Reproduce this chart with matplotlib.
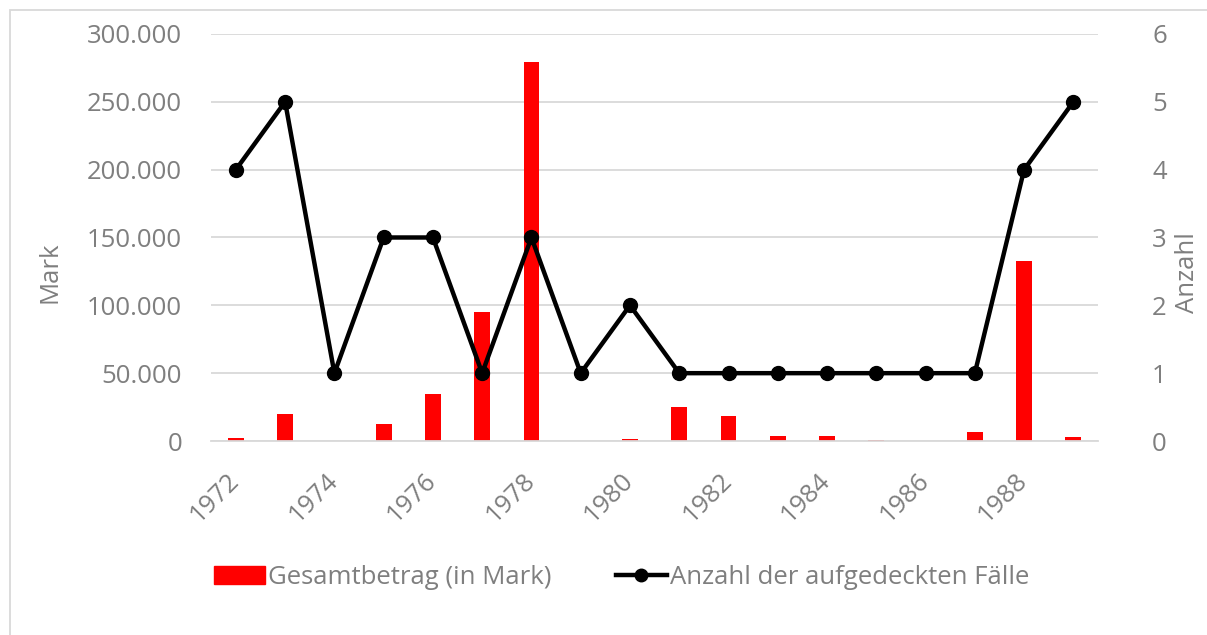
import numpy as np
import matplotlib.pyplot as plt
from matplotlib.lines import Line2D
from matplotlib.patches import Patch, Rectangle

# =============================================================================
# Data
# =============================================================================
years = list(range(1972, 1990))
betrag = [2000, 20000, 0, 12500, 35000, 95000, 279000, 300, 1500,
          25000, 18500, 3700, 4000, 800, 0, 6400, 133000, 2700]
faelle = [4, 5, 1, 3, 3, 1, 3, 1, 2, 1, 1, 1, 1, 1, 1, 1, 4, 5]

tick_years = [y for y in years if y % 2 == 0]
grey = '#7f7f7f'

plt.rcParams['font.family'] = ['Open Sans', 'DejaVu Sans']

# =============================================================================
# Plot
# =============================================================================
fig = plt.figure(figsize=(12.07, 6.35), dpi=100)
ax = fig.add_axes([0.175, 0.3055, 0.7347, 0.641])
ax2 = ax.twinx()

x = np.arange(len(years))
ax.bar(x, betrag, width=0.32, color='#ff0000', zorder=2)
ax2.plot(x, faelle, color='black', lw=3.2, marker='o', ms=10, zorder=3)

ax.set_xlim(-0.5, len(years) - 0.5)
ax.set_ylim(0, 300000)
ax2.set_ylim(0, 6)

yt = np.arange(0, 300001, 50000)
ax.set_yticks(yt)
ax.set_yticklabels([f'{v:,}'.replace(',', '.') if v else '0' for v in yt])
ax2.set_yticks(range(7))

ax.set_xticks([years.index(y) for y in tick_years])
ax.set_xticklabels(tick_years, rotation=45, ha='right', va='center',
                   rotation_mode='anchor')

ax.grid(axis='y', color='#d9d9d9', lw=1.3, zorder=0)
ax.set_axisbelow(True)
for a in (ax, ax2):
    for s in a.spines.values():
        s.set_visible(False)
    a.tick_params(length=0, colors=grey, labelsize=18.5)
ax.spines['bottom'].set_visible(True)
ax.spines['bottom'].set_color('#d9d9d9')
ax.spines['bottom'].set_linewidth(1.3)
ax.tick_params(axis='x', pad=26)
ax.tick_params(axis='y', pad=21)
ax2.tick_params(axis='y', pad=39)

ax.set_ylabel('Mark', color=grey, fontsize=18.5)
ax2.set_ylabel('Anzahl', color=grey, fontsize=18.5, rotation=90)
ax.yaxis.set_label_coords(-0.168, 0.415)
ax2.yaxis.set_label_coords(1.087, 0.415)

handles = [Patch(color='#ff0000', label='Gesamtbetrag (in Mark)'),
           Line2D([0], [0], color='black', lw=3.2, marker='o', ms=9,
                  label='Anzahl der aufgedeckten Fälle')]
leg = fig.legend(handles=handles, loc='center', bbox_to_anchor=(0.515, 0.091),
                 ncol=2, frameon=False, fontsize=18.5, handlelength=2.0,
                 handletextpad=0.1, columnspacing=2.5)
for t in leg.get_texts():
    t.set_color(grey)

# light outer frame
fig.patches.append(Rectangle((0.008, -0.1), 1.1, 1.085, transform=fig.transFigure,
                             fill=False, edgecolor='#d9d9d9', lw=1.3))

plt.savefig('out.png', dpi=100)
